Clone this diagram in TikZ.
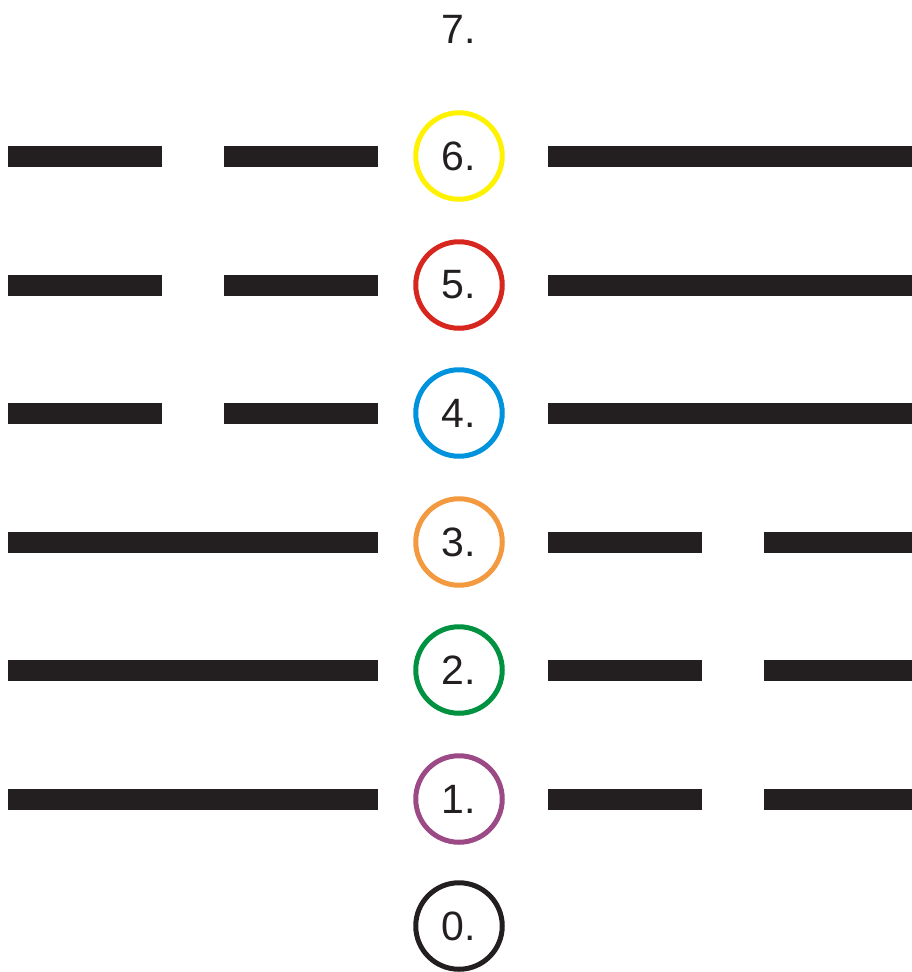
\documentclass[tikz,border=0pt]{standalone}
\usepackage{fontspec}
\setmainfont{Liberation Sans}
\definecolor{barc}{HTML}{231F20}
\definecolor{cyel}{HTML}{FFF200}
\definecolor{cred}{HTML}{D7261E}
\definecolor{cblue}{HTML}{0093DD}
\definecolor{corange}{HTML}{F39A41}
\definecolor{cgreen}{HTML}{009240}
\definecolor{cpurple}{HTML}{9B4A85}
\definecolor{cblack}{HTML}{231F20}
\begin{document}
\begin{tikzpicture}[x=1pt,y=-1pt,
  ring/.style={circle,draw=#1,line width=5pt,minimum size=86.5pt,inner sep=0pt,text=barc,font=\fontsize{41}{41}\selectfont},
  lbl/.style={text=barc,font=\fontsize{41}{41}\selectfont},
  bar/.style={fill=barc}]
\useasboundingbox (0,0) rectangle (912,972);
\node[lbl] (n7) at (459,29) {7.};
\node[ring=cyel] (n6) at (459,156) {6.};
\node[ring=cred] (n5) at (459,285) {5.};
\node[ring=cblue] (n4) at (459,413) {4.};
\node[ring=corange] (n3) at (459,542) {3.};
\node[ring=cgreen] (n2) at (459,670) {2.};
\node[ring=cpurple] (n1) at (459,799) {1.};
\node[ring=cblack] (n0) at (459,926) {0.};
% rows 6,5,4: broken left, solid right
\foreach \y in {156,285,413}{
  \fill[bar] (8,\y-10.5) rectangle (162,\y+10.5);
  \fill[bar] (224,\y-10.5) rectangle (378,\y+10.5);
  \fill[bar] (548,\y-10.5) rectangle (912,\y+10.5);
}
% rows 3,2,1: solid left, broken right
\foreach \y in {542,670,799}{
  \fill[bar] (8,\y-10.5) rectangle (378,\y+10.5);
  \fill[bar] (548,\y-10.5) rectangle (702,\y+10.5);
  \fill[bar] (764,\y-10.5) rectangle (912,\y+10.5);
}
\end{tikzpicture}
\end{document}
